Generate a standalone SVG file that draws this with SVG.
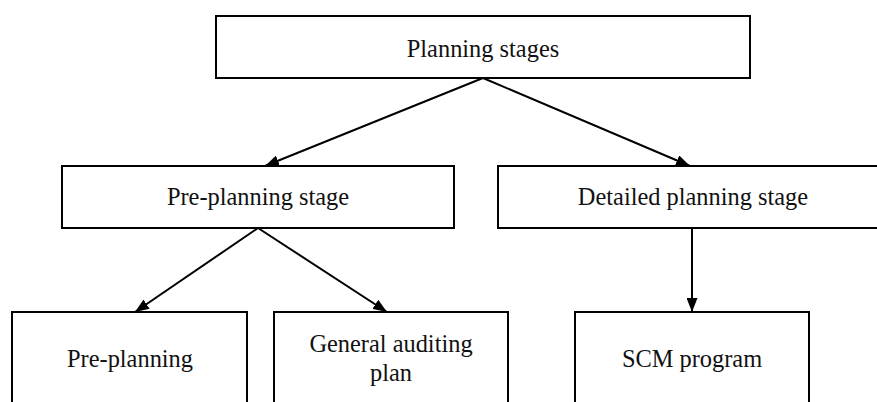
<svg xmlns="http://www.w3.org/2000/svg" width="877" height="402" viewBox="0 0 877 402">
<style>
.box{fill:#fff;stroke:#000;stroke-width:2}
.lbl{font-family:"Liberation Serif","Times New Roman",serif;font-size:24.4px;fill:#111;text-anchor:middle}
.con{stroke:#000;stroke-width:2;fill:none;marker-end:url(#ah)}
</style>
<defs>
<marker id="ah" viewBox="0 0 14 11" refX="14" refY="5.5" markerWidth="14" markerHeight="11" markerUnits="userSpaceOnUse" orient="auto">
<path d="M0,0 L14,5.5 L0,11 Z" fill="#000"/>
</marker>
</defs>
<rect width="877" height="402" fill="#fff"/>
<g id="connectors">
<line class="con" x1="483" y1="78" x2="265" y2="166"/>
<line class="con" x1="483" y1="78" x2="690" y2="166"/>
<line class="con" x1="258" y1="228" x2="135" y2="312"/>
<line class="con" x1="258" y1="228" x2="387" y2="312"/>
<line class="con" x1="692" y1="228" x2="692" y2="312"/>
</g>
<g id="planning-stages">
<rect class="box" x="216" y="16" width="534" height="62"/>
<text class="lbl" x="483" y="57">Planning stages</text>
</g>
<g id="pre-planning-stage">
<rect class="box" x="62" y="166" width="392" height="62"/>
<text class="lbl" x="258" y="205">Pre-planning stage</text>
</g>
<g id="detailed-planning-stage">
<rect class="box" x="498" y="166" width="400" height="62"/>
<text class="lbl" x="693" y="205">Detailed planning stage</text>
</g>
<g id="pre-planning">
<rect class="box" x="12" y="312" width="235" height="120"/>
<text class="lbl" x="130" y="367">Pre-planning</text>
</g>
<g id="general-auditing-plan">
<rect class="box" x="274" y="312" width="234" height="120"/>
<text class="lbl" x="391" y="352">General auditing</text>
<text class="lbl" x="391" y="381">plan</text>
</g>
<g id="scm-program">
<rect class="box" x="575" y="312" width="234" height="120"/>
<text class="lbl" x="692" y="367">SCM program</text>
</g>
</svg>
